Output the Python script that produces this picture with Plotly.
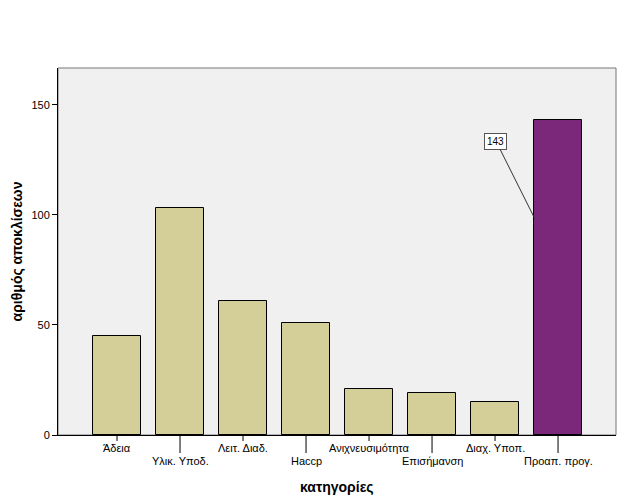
import plotly.graph_objects as go

categories = ["Άδεια", "Υλικ. Υποδ.", "Λειτ. Διαδ.", "Haccp", "Ανιχνευσιμότητα",
              "Επισήμανση", "Διαχ. Υποπ.", "Προαπ. προγ."]
values = [45, 103, 61, 51, 21, 19, 15, 143]
colors = ["#d4cf99"] * 7 + ["#7b287a"]
y_ticks = [0, 50, 100, 150]

xs = list(range(len(categories)))
fig = go.Figure()
fig.add_trace(go.Bar(x=xs, y=values, width=0.75,
                     marker=dict(color=colors, line=dict(color="black", width=1)),
                     hoverinfo="skip"))

font = dict(family="Arial, Liberation Sans", size=11, color="black")
annotations = []
shapes = []
for i, c in enumerate(categories):
    low = i % 2 == 1
    annotations.append(dict(x=i, y=0, xref="x", yref="y", text=c, showarrow=False,
                            yanchor="top", xanchor="center", yshift=-(18 if low else 5),
                            font=font))
    shapes.append(dict(type="line", xref="x", yref="paper", x0=i, x1=i,
                       y0=0, y1=-(18 if low else 6) / 367, line=dict(color="black", width=1)))

# label 143
i_max = values.index(max(values))
annotations.append(dict(x=i_max - 0.375, y=values[i_max] * 0.69, xref="x", yref="y",
                        ax=i_max - 0.985, ay=values[i_max] * 0.934, axref="x", ayref="y",
                        text=str(values[i_max]), showarrow=True, arrowhead=0, arrowwidth=1,
                        arrowcolor="#333333", bgcolor="white", bordercolor="#555555",
                        borderwidth=1, borderpad=2, font=dict(family="Arial", size=10, color="black")))

shapes.append(dict(type="rect", xref="paper", yref="paper", x0=0, x1=1, y0=0, y1=1,
                   line=dict(color="#777777", width=1), layer="below"))

fig.update_layout(
    width=626, height=501,
    margin=dict(l=58, r=10, t=68, b=66),
    paper_bgcolor="white", plot_bgcolor="#f0f0f0",
    showlegend=False,
    bargap=0,
    xaxis=dict(range=[-0.937, 7.92], showticklabels=False, showgrid=False, zeroline=False,
               showline=True, linecolor="black", linewidth=1, ticks="", automargin=False),
    yaxis=dict(range=[0, 166.8], tickvals=y_ticks, ticks="outside", ticklen=5,
               tickcolor="black", showgrid=False, zeroline=False, showline=True,
               linecolor="black", linewidth=1, tickfont=font, automargin=False,
               title=dict(text="<b>αριθμός αποκλίσεων</b>", standoff=5,
                          font=dict(family="Arial", size=14, color="black"))),
    annotations=annotations + [dict(x=0.5, y=-0.115, xref="paper", yref="paper",
                                    text="<b>κατηγορίες</b>", showarrow=False, yanchor="top",
                                    font=dict(family="Arial", size=14, color="black"))],
    shapes=shapes,
)
fig.write_html("out.html")
